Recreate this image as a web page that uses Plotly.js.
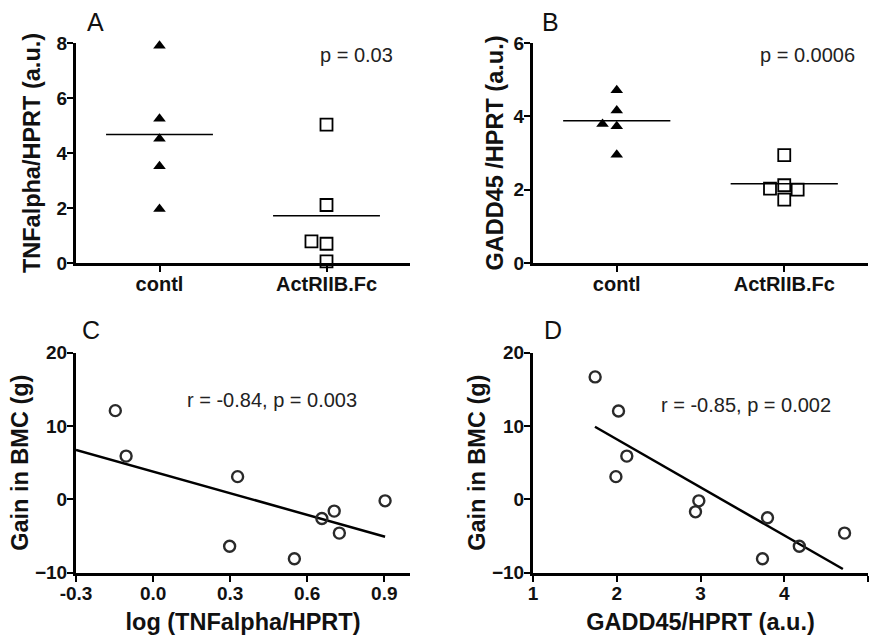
<!DOCTYPE html>
<html>
<head>
<meta charset="utf-8">
<script src="https://cdn.plot.ly/plotly-3.0.1.min.js"></script>
<style>html,body{margin:0;padding:0;background:#fff;}#chart{width:873px;height:641px;}</style>
</head>
<body>
<div id="chart"></div>
<script>
// ---- data ----
const catLabels = ['contl', 'ActRIIB.Fc'];
const catPos = [0, 1];

// Panel A: TNFalpha/HPRT (a.u.)
const tnfContl = [7.9, 5.25, 4.52, 3.52, 1.96];
const tnfContlX = [0, 0, 0, 0, 0];
const tnfAct = [5.03, 2.11, 0.79, 0.70, 0.06];
const tnfActX = [1, 1, 0.91, 1, 1];
const tnfMeans = [4.67, 1.72];

// Panel B: GADD45/HPRT (a.u.)
const gaddContl = [4.71, 4.16, 3.79, 3.73, 2.95];
const gaddContlX = [0, 0, -0.085, 0, 0];
const gaddAct = [2.94, 2.12, 2.03, 2.0, 1.73];
const gaddActX = [1, 1, 0.915, 1.08, 1];
const gaddMeans = [3.88, 2.16];

// Panel C: log(TNFalpha/HPRT) vs gain in BMC (g)
const logTnf = [-0.147, -0.105, 0.329, 0.298, 0.550, 0.657, 0.705, 0.725, 0.903];
const gainC = [12.1, 5.9, 3.1, -6.4, -8.1, -2.6, -1.6, -4.6, -0.2];
const fitCX = [-0.3, 0.903];
const fitCY = [6.75, -5.1];

// Panel D: GADD45/HPRT vs gain in BMC (g)
const gaddD = [1.742, 2.021, 2.12, 1.99, 2.98, 2.94, 3.80, 3.74, 4.18, 4.72];
const gainD = [16.7, 12.05, 5.9, 3.1, -0.2, -1.7, -2.5, -8.1, -6.4, -4.6];
const fitDX = [1.74, 4.70];
const fitDY = [9.9, -9.5];

// ---- styling ----
const FONT = 'Liberation Sans, Arial, sans-serif';
const meanHalf = 0.32;
const tri = {symbol: 'triangle-up', size: 11, color: '#000'};
const sq = {symbol: 'square-open', size: 12, color: '#000', line: {width: 1.8, color: '#000'}};
const circ = {symbol: 'circle-open', size: 11, color: '#2a2a2a', line: {width: 2.4, color: '#2a2a2a'}};

function meanLine(m, i, xa, ya) {
  return {x: [catPos[i] - meanHalf, catPos[i] + meanHalf], y: [m, m], xaxis: xa, yaxis: ya,
    mode: 'lines', line: {color: '#000', width: 1.5}, hoverinfo: 'skip', showlegend: false};
}

const data = [
  {x: tnfContlX, y: tnfContl, xaxis: 'x', yaxis: 'y', mode: 'markers', marker: tri, cliponaxis: false, showlegend: false},
  {x: tnfActX, y: tnfAct, xaxis: 'x', yaxis: 'y', mode: 'markers', marker: sq, cliponaxis: false, showlegend: false},
  meanLine(tnfMeans[0], 0, 'x', 'y'), meanLine(tnfMeans[1], 1, 'x', 'y'),
  {x: gaddContlX, y: gaddContl, xaxis: 'x2', yaxis: 'y2', mode: 'markers', marker: tri, cliponaxis: false, showlegend: false},
  {x: gaddActX, y: gaddAct, xaxis: 'x2', yaxis: 'y2', mode: 'markers', marker: sq, cliponaxis: false, showlegend: false},
  meanLine(gaddMeans[0], 0, 'x2', 'y2'), meanLine(gaddMeans[1], 1, 'x2', 'y2'),
  {x: fitCX, y: fitCY, xaxis: 'x3', yaxis: 'y3', mode: 'lines', line: {color: '#000', width: 2.5}, showlegend: false},
  {x: logTnf, y: gainC, xaxis: 'x3', yaxis: 'y3', mode: 'markers', marker: circ, cliponaxis: false, showlegend: false},
  {x: fitDX, y: fitDY, xaxis: 'x4', yaxis: 'y4', mode: 'lines', line: {color: '#000', width: 2.5}, showlegend: false},
  {x: gaddD, y: gainD, xaxis: 'x4', yaxis: 'y4', mode: 'markers', marker: circ, cliponaxis: false, showlegend: false}
];

const tickFont = {family: FONT, size: 19, color: '#111', weight: 'bold'};
const titleFont = {family: FONT, size: 23.5, color: '#111', weight: 'bold'};
const base = {showline: true, linecolor: '#000', linewidth: 3, ticks: 'outside', ticklen: 6,
  tickwidth: 2, tickcolor: '#000', showgrid: false, zeroline: false, tickfont: tickFont, fixedrange: true};

function ax(extra) { return Object.assign({}, base, extra); }

const topDom = [1 - 263 / 641, 1 - 43 / 641];
const botDom = [1 - 572.7 / 641, 1 - 352.7 / 641];
const leftDom = [76 / 873, 410 / 873];
const rightDom = [533 / 873, 868 / 873];

const layout = {
  width: 873, height: 641,
  margin: {l: 0, r: 0, t: 0, b: 0},
  paper_bgcolor: '#fff', plot_bgcolor: '#fff',
  font: {family: FONT, color: '#111'},
  showlegend: false,
  xaxis: ax({domain: leftDom, anchor: 'y', range: [-0.5, 1.5], tickvals: catPos, ticktext: catLabels,
    tickfont: Object.assign({}, tickFont, {size: 20}), ticklabelstandoff: -5}),
  yaxis: ax({domain: topDom, anchor: 'x', range: [0, 8], tickvals: [0, 2, 4, 6, 8], ticklabelstandoff: -4,
    title: {text: 'TNFalpha/HPRT (a.u.)', font: titleFont, standoff: 10}}),
  xaxis2: ax({domain: rightDom, anchor: 'y2', range: [-0.5, 1.5], tickvals: catPos, ticktext: catLabels,
    tickfont: Object.assign({}, tickFont, {size: 20}), ticklabelstandoff: -5}),
  yaxis2: ax({domain: topDom, anchor: 'x2', range: [0, 6], tickvals: [0, 2, 4, 6], ticklabelstandoff: -4,
    title: {text: 'GADD45 /HPRT (a.u.)', font: titleFont, standoff: 4}}),
  xaxis3: ax({domain: leftDom, anchor: 'y3', range: [-0.3, 1.0], tickvals: [-0.3, 0, 0.3, 0.6, 0.9],
    ticktext: ['-0.3', '0.0', '0.3', '0.6', '0.9'], ticklabelstandoff: -5,
    title: {text: 'log (TNFalpha/HPRT)', font: titleFont, standoff: 12}}),
  yaxis3: ax({domain: botDom, anchor: 'x3', range: [-10, 20], tickvals: [-10, 0, 10, 20], ticklabelstandoff: -4,
    title: {text: 'Gain in BMC (g)', font: titleFont, standoff: 0}}),
  xaxis4: ax({domain: rightDom, anchor: 'y4', range: [1, 5], tickvals: [1, 2, 3, 4, 5], ticklabelstandoff: -5,
    title: {text: 'GADD45/HPRT (a.u.)', font: titleFont, standoff: 12}}),
  yaxis4: ax({domain: botDom, anchor: 'x4', range: [-10, 20], tickvals: [-10, 0, 10, 20], ticklabelstandoff: -4,
    title: {text: 'Gain in BMC (g)', font: titleFont, standoff: 0}}),
  annotations: [
    {text: 'A', x: 95 / 873, y: 1 - 22 / 641},
    {text: 'B', x: 550 / 873, y: 1 - 22 / 641},
    {text: 'C', x: 91 / 873, y: 1 - 330 / 641},
    {text: 'D', x: 553 / 873, y: 1 - 330 / 641},
    {text: 'p = 0.03', x: 356 / 873, y: 1 - 55 / 641, small: true},
    {text: 'p = 0.0006', x: 807 / 873, y: 1 - 55 / 641, small: true},
    {text: 'r = -0.84, p = 0.003', x: 272 / 873, y: 1 - 400 / 641, small: true},
    {text: 'r = -0.85, p = 0.002', x: 746 / 873, y: 1 - 405 / 641, small: true}
  ].map(a => ({text: a.text, x: a.x, y: a.y, xref: 'paper', yref: 'paper', xanchor: 'center', yanchor: 'middle',
    showarrow: false, font: {family: FONT, size: a.small ? 20 : 25, color: a.small ? '#222' : '#111'}}))
};

Plotly.newPlot('chart', data, layout, {staticPlot: true});
</script>
</body>
</html>
